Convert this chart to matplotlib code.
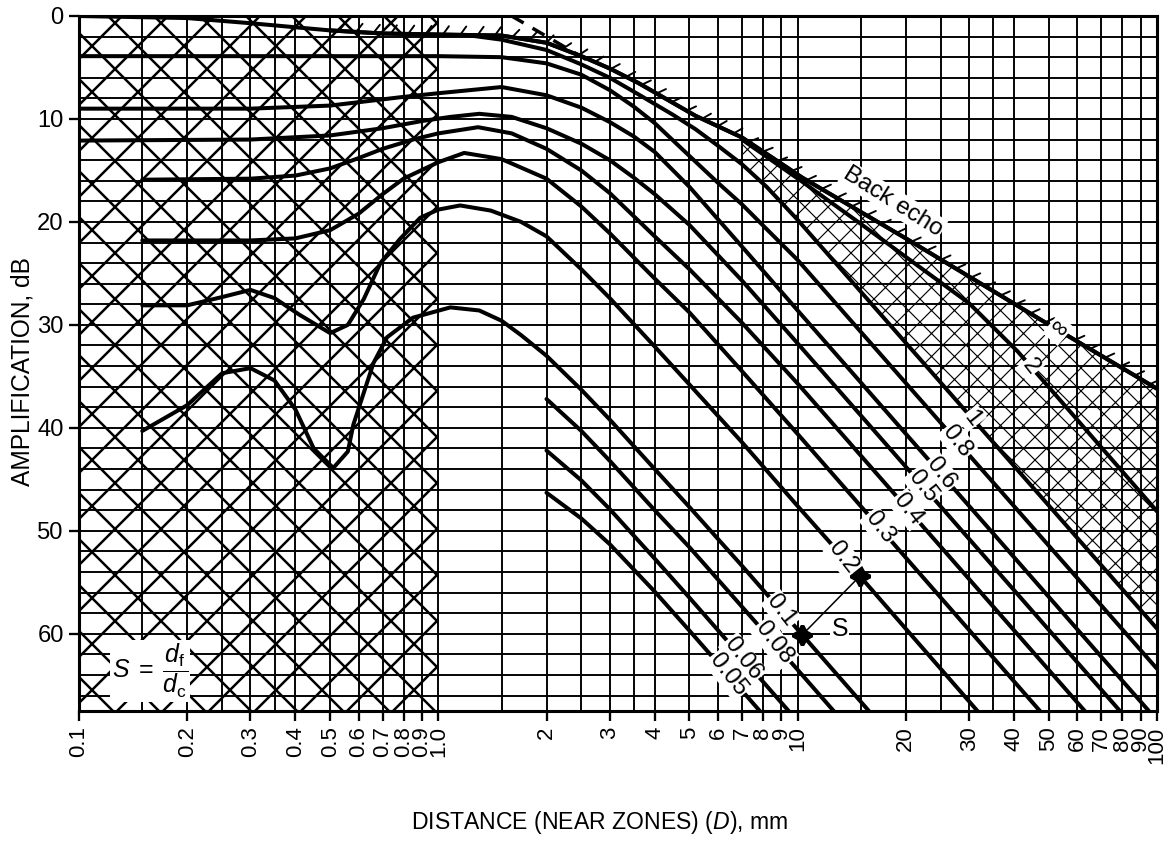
import numpy as np
import matplotlib
matplotlib.use("Agg")
import matplotlib.pyplot as plt
import matplotlib.patheffects as pe
from matplotlib.ticker import FixedLocator, NullFormatter

DPI = 276
plt.rcParams.update({
    "font.family": ["Liberation Sans", "DejaVu Sans"],
    "mathtext.fontset": "custom",
    "mathtext.rm": "Liberation Sans",
    "mathtext.it": "Liberation Sans:italic",
    "hatch.color": "black",
    "hatch.linewidth": 0.65,
})

# ---------------- axis data ----------------
x_tick_values = [0.1, 0.2, 0.3, 0.4, 0.5, 0.6, 0.7, 0.8, 0.9, 1.0,
                 2, 3, 4, 5, 6, 7, 8, 9, 10,
                 20, 30, 40, 50, 60, 70, 80, 90, 100]
x_tick_labels = ["0.1", "0.2", "0.3", "0.4", "0.5", "0.6", "0.7", "0.8", "0.9", "1.0",
                 "2", "3", "4", "5", "6", "7", "8", "9", "10",
                 "20", "30", "40", "50", "60", "70", "80", "90", "100"]
x_extra_grid = [0.15, 0.25, 0.35, 1.5, 2.5, 3.5, 15, 25, 35]
y_tick_values = [0, 10, 20, 30, 40, 50, 60]
y_grid_values = list(range(0, 68, 2))

# ---------------- curves (distance D, amplification dB) ----------------
inf_x = [0.1, 0.2, 0.3, 0.5, 0.7, 1.0, 1.5, 2.0, 2.5, 3.0, 3.6, 5.2, 7.0, 10.3, 20, 48, 100]
inf_db = [0, 0.2, 0.7, 1.4, 1.7, 1.8, 1.9, 2.6, 3.9, 5.1, 6.5, 9.7, 11.8, 15.7, 21.6, 29.6, 36.2]

s2_x = [7.0, 10.3, 15, 20, 30, 41, 100]
s2_db = [12.0, 16.1, 20.2, 23.4, 27.9, 32.6, 48.1]

s1_x = [1.2, 1.5, 2.0, 2.5, 3.0, 3.6, 4.5, 5.2, 6.0, 7.0, 8.2, 10, 100]
s1_db = [1.85, 2.3, 3.3, 4.7, 6.0, 7.6, 9.6, 11.0, 12.6, 14.4, 16.6, 19.8, 59.5]

s08_x = [0.1, 0.5, 1.0, 1.5, 2.0, 2.5, 3.0, 3.5, 4.0, 5.0, 6.0, 7.0, 8.2, 10, 100]
s08_db = [3.9, 3.9, 3.9, 4.0, 4.6, 5.7, 7.2, 8.8, 10.4, 13.6, 16.2, 18.3, 20.7, 23.7, 63.4]

s06_x = [0.1, 0.3, 0.5, 0.78, 1.0, 1.5, 2.0, 2.5, 3.0, 3.5, 4.0, 5.0, 7.0, 10, 100]
s06_db = [9.0, 9.0, 8.7, 7.9, 7.5, 6.9, 7.7, 8.9, 10.3, 11.7, 13.2, 16.6, 22.4, 28.6, 68.4]

s05_x = [0.1, 0.3, 0.5, 0.7, 0.9, 1.08, 1.3, 1.6, 2.0, 2.5, 3.0, 3.5, 4.0, 5.0, 7.0, 10, 100]
s05_db = [12.1, 12.0, 11.6, 10.9, 10.2, 9.8, 9.5, 9.8, 10.9, 12.4, 14.0, 15.7, 17.3, 20.3, 25.7, 31.8, 71.6]

s04_x = [0.15, 0.3, 0.4, 0.5, 0.6, 0.7, 0.85, 1.0, 1.29, 1.6, 2.0, 2.5, 3.0, 4.0, 5.0, 7.0, 10, 100]
s04_db = [15.9, 15.8, 15.5, 14.8, 13.8, 12.9, 12.0, 11.4, 10.8, 11.4, 12.9, 15.0, 17.2, 21.4, 24.6, 29.8, 35.7, 75.5]

s03_x = [0.15, 0.3, 0.4, 0.5, 0.6, 0.7, 0.8, 1.0, 1.18, 1.5, 2.0, 2.5, 3.0, 4.0, 5.0, 7.0, 10, 100]
s03_db = [21.8, 21.8, 21.6, 20.8, 19.2, 17.3, 15.8, 14.2, 13.3, 13.9, 15.8, 18.5, 21.1, 25.5, 28.8, 34.5, 40.6, 80.5]

s02_x = [0.15, 0.2, 0.25, 0.3, 0.35, 0.41, 0.5, 0.56, 0.62, 0.69, 0.78, 0.89, 1.0, 1.15,
         1.4, 1.7, 2.0, 2.5, 3.0, 4.0, 5.0, 7.0, 10, 14.9, 100]
s02_db = [28.1, 28.1, 27.3, 26.6, 27.4, 29.0, 30.8, 30.0, 27.5, 24.0, 21.7, 19.6, 18.8, 18.4,
          18.9, 20.0, 21.4, 24.6, 27.4, 32.1, 35.8, 41.4, 47.6, 54.4, 87.5]

s01_x = [0.15, 0.2, 0.25, 0.3, 0.35, 0.4, 0.45, 0.51, 0.56, 0.58, 0.62, 0.66, 0.72, 0.85, 1.08,
         1.3, 1.5, 1.7, 2.0, 2.5, 3.0, 4.0, 5.0, 7.0, 10.3, 100]
s01_db = [40.3, 37.8, 34.7, 34.2, 35.4, 38.2, 42.0, 43.9, 42.3, 39.7, 36.6, 33.7, 31.2, 29.3, 28.3,
          28.6, 29.6, 31.0, 33.0, 36.3, 39.2, 44.0, 47.7, 53.4, 60.1, 99.5]

s008_x = [2.0, 2.5, 3.0, 4.0, 5.0, 10, 100]
s008_db = [37.2, 40.3, 43.2, 48.0, 51.6, 63.5, 103.4]
s006_x = [2.0, 2.5, 3.0, 4.0, 5.0, 10, 100]
s006_db = [42.2, 45.1, 47.9, 52.7, 56.5, 68.5, 108.4]
s005_x = [2.0, 2.5, 3.0, 4.0, 5.0, 10, 100]
s005_db = [46.3, 48.8, 51.3, 55.9, 59.7, 71.7, 111.6]

dash_x = [1.6, 2.6]
dash_db = [0.0, 4.3]

star_x = [10.3, 14.9]
star_db = [60.1, 54.4]

label_texts = ["\u221e", "2", "1", "0.8", "0.6", "0.5", "0.4", "0.3", "0.2", "0.1", "0.08", "0.06", "0.05"]
label_x = [53.0, 44.5, 30.6, 27.8, 25.0, 22.3, 20.3, 16.9, 13.4, 9.0, 8.6, 7.05, 6.4]

# ---------------- figure ----------------
fig = plt.figure(figsize=(1170 / DPI, 858 / DPI), dpi=DPI)
ax = fig.add_axes([79 / 1170, 1 - 711 / 858, 1078 / 1170, 695 / 858])
ax.set_xscale("log")
ax.set_xlim(0.1, 100)
ax.set_ylim(67.5, 0)

ax.set_xticks(x_tick_values)
ax.set_xticklabels(x_tick_labels, rotation=90)
ax.xaxis.set_minor_locator(FixedLocator(x_extra_grid))
ax.xaxis.set_minor_formatter(NullFormatter())
ax.set_yticks(y_tick_values)
ax.yaxis.set_minor_locator(FixedLocator(y_grid_values))
ax.grid(which="both", color="black", lw=0.5, zorder=1)
ax.set_axisbelow(False)
ax.tick_params(which="minor", length=0)
ax.tick_params(which="major", direction="out", length=2.5, width=0.6, pad=1.5)
ax.tick_params(axis="y", labelsize=6.2)
ax.tick_params(axis="x", labelsize=5.8)
for sp in ax.spines.values():
    sp.set_linewidth(0.8)

# near-zone crosshatch
ax.axvspan(0.1, 1.0, facecolor="none", edgecolor="black", lw=0, hatch="xx", zorder=0.5)

# hatched region between back echo and S = 1
inf_a = np.array(inf_x); inf_b = np.array(inf_db)
s1_a = np.array(s1_x); s1_b = np.array(s1_db)
mu = inf_a >= 7.0
ml = s1_a >= 7.0
poly_x = np.concatenate([inf_a[mu], s1_a[ml][::-1]])
poly_y = np.concatenate([inf_b[mu], s1_b[ml][::-1]])
patch = ax.fill(poly_x, poly_y, facecolor="none", edgecolor="black", lw=0, hatch="xxxx", zorder=0.6)[0]
try:
    patch.set_hatch_linewidth(0.3)
except Exception:
    pass

curve_kw = dict(color="black", lw=1.05, zorder=3, solid_capstyle="round", solid_joinstyle="round")

# back-echo curve: plain at the start, ticked (hatched edge) further on
k = int(np.searchsorted(inf_a, 0.35))
ax.plot(inf_a[:k + 1], inf_b[:k + 1], **curve_kw)
ax.plot(inf_a[k:], inf_b[k:],
        path_effects=[pe.withTickedStroke(angle=55, spacing=4.5, length=0.6, linewidth=0.5), pe.Normal()],
        **curve_kw)

all_curves = [(s2_x, s2_db), (s1_x, s1_db), (s08_x, s08_db), (s06_x, s06_db), (s05_x, s05_db),
              (s04_x, s04_db), (s03_x, s03_db), (s02_x, s02_db), (s01_x, s01_db),
              (s008_x, s008_db), (s006_x, s006_db), (s005_x, s005_db)]
for cx, cy in all_curves:
    ax.plot(cx, cy, **curve_kw)

ax.plot(dash_x, dash_db, color="black", lw=0.9, ls=(0, (4, 3)), zorder=3)

# S construction
ax.plot(star_x, star_db, color="black", lw=0.4, zorder=4)
ax.plot(star_x, star_db, ls="none", marker=(4, 1, 0), ms=5, color="black", zorder=4)
ax.text(13.1, 59.5, "S", fontsize=6.5, ha="center", va="center", zorder=6,
        bbox=dict(facecolor="white", edgecolor="none", pad=0.3))

# curve labels placed on their own curves
label_curves = [(inf_x, inf_db)] + all_curves
bbox_w = dict(facecolor="white", edgecolor="none", pad=0.4)
for t, lx, (cx, cy) in zip(label_texts, label_x, label_curves):
    ly = np.interp(np.log10(lx), np.log10(cx), cy)
    rot = -40 if t == "\u221e" else -52
    ax.text(lx, ly, t, fontsize=6.3, rotation=rot, ha="center", va="center",
            rotation_mode="anchor", zorder=6, bbox=bbox_w)

ax.text(18.4, 18.0, "Back echo", fontsize=6.3, rotation=-32, ha="center", va="center",
        rotation_mode="anchor", zorder=6, bbox=bbox_w)

ax.text(0.158, 63.6, r"$S\;=\;\dfrac{d_{\mathrm{f}}}{d_{\mathrm{c}}}$", fontsize=6.5,
        ha="center", va="center", zorder=6,
        bbox=dict(facecolor="white", edgecolor="none", pad=0.5))

fig.text(23 / 1170, 1 - 372 / 858, "AMPLIFICATION, dB", rotation=90, ha="center", va="center", fontsize=6.4)
fig.text(600 / 1170, 1 - 823 / 858, "DISTANCE (NEAR ZONES) ($D$), mm", ha="center", va="center", fontsize=6.0)

fig.savefig("out.png", dpi=DPI)
